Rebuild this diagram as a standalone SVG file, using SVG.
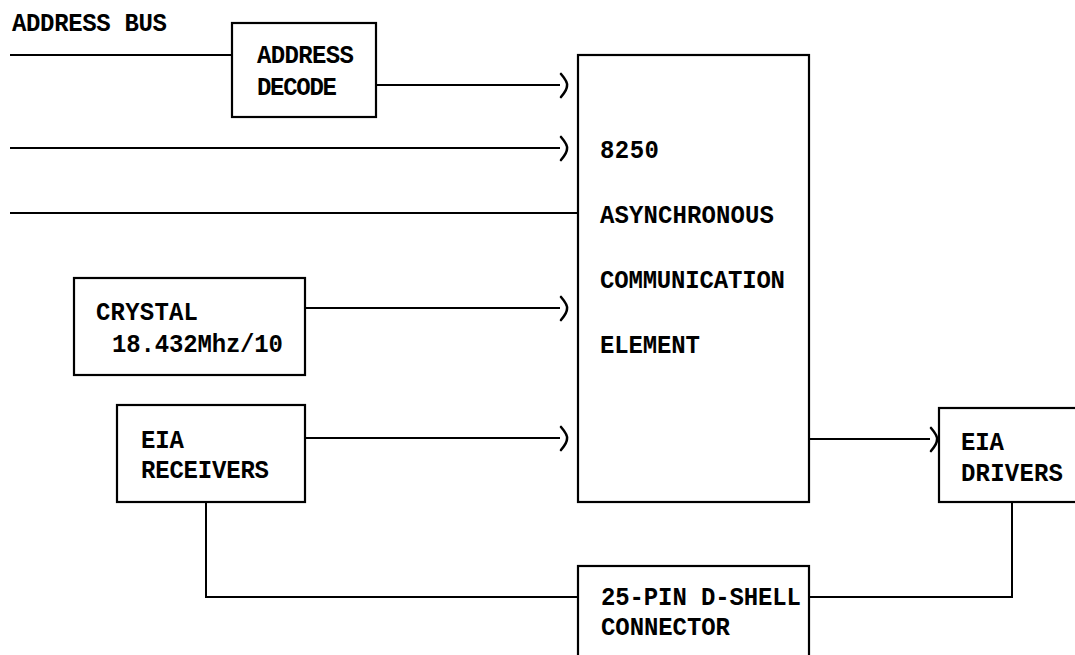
<svg xmlns="http://www.w3.org/2000/svg" width="1075" height="655" viewBox="0 0 1075 655">
<style>
.t{font-family:"Liberation Mono","DejaVu Sans Mono",monospace;font-weight:bold;font-size:24px;fill:#000}
.b{fill:#fff;stroke:#000;stroke-width:2.2}
.w{fill:none;stroke:#000;stroke-width:2}
.c{fill:none;stroke:#000;stroke-width:2.6;stroke-linejoin:round;stroke-linecap:round}
</style>
<rect width="1075" height="655" fill="#fff"/>
<text class="t" transform="scale(1,1.1)" x="12" y="28.18" textLength="155" lengthAdjust="spacing">ADDRESS BUS</text>
<g id="connectors">
<path class="w" d="M10,55 H232"/>
<path class="w" d="M376,85 H560"/>
<path class="c" d="M561,74 Q568,82 567,86 Q567,90 561,97"/>
<path class="w" d="M10,148 H560"/>
<path class="c" d="M561,137 Q568,145 567,149 Q567,153 561,160"/>
<path class="w" d="M10,213 H578"/>
<path class="w" d="M305,308 H560"/>
<path class="c" d="M561,297 Q568,305 567,309 Q567,313 561,320"/>
<path class="w" d="M305,438 H560"/>
<path class="c" d="M561,427 Q568,435 567,439 Q567,443 561,450"/>
<path class="w" d="M809,439 H930"/>
<path class="c" d="M931,428 Q938,436 937,440 Q937,444 931,451"/>
<path class="w" d="M206,502 V597 H578"/>
<path class="w" d="M809,597 H1012 V502"/>
</g>
<g id="address-decode">
<rect class="b" x="232" y="23" width="144" height="94"/>
<text class="t" transform="scale(1,1.1)" x="257" y="57.27" textLength="97" lengthAdjust="spacing">ADDRESS</text>
<text class="t" transform="scale(1,1.1)" x="257" y="86.36" textLength="80" lengthAdjust="spacing">DECODE</text>
</g>
<g id="ace-8250">
<rect class="b" x="578" y="55" width="231" height="447"/>
<text class="t" transform="scale(1,1.1)" x="600" y="143.64" textLength="59" lengthAdjust="spacing">8250</text>
<text class="t" transform="scale(1,1.1)" x="600" y="202.73" textLength="174" lengthAdjust="spacing">ASYNCHRONOUS</text>
<text class="t" transform="scale(1,1.1)" x="600" y="261.82" textLength="185" lengthAdjust="spacing">COMMUNICATION</text>
<text class="t" transform="scale(1,1.1)" x="600" y="320.91" textLength="100" lengthAdjust="spacing">ELEMENT</text>
</g>
<g id="crystal">
<rect class="b" x="74" y="278" width="231" height="97"/>
<text class="t" transform="scale(1,1.1)" x="96" y="290.91" textLength="102" lengthAdjust="spacing">CRYSTAL</text>
<text class="t" transform="scale(1,1.1)" x="112" y="320" textLength="171" lengthAdjust="spacing">18.432Mhz/10</text>
</g>
<g id="eia-receivers">
<rect class="b" x="117" y="405" width="188" height="97"/>
<text class="t" transform="scale(1,1.1)" x="141" y="407.27" textLength="43" lengthAdjust="spacing">EIA</text>
<text class="t" transform="scale(1,1.1)" x="141" y="434.55" textLength="128" lengthAdjust="spacing">RECEIVERS</text>
</g>
<g id="eia-drivers">
<rect class="b" x="939" y="408" width="140" height="94"/>
<text class="t" transform="scale(1,1.1)" x="961" y="409.09" textLength="43" lengthAdjust="spacing">EIA</text>
<text class="t" transform="scale(1,1.1)" x="961" y="437.27" textLength="102" lengthAdjust="spacing">DRIVERS</text>
</g>
<g id="d-shell-connector">
<rect class="b" x="578" y="566" width="231" height="100"/>
<text class="t" transform="scale(1,1.1)" x="601" y="550" textLength="200" lengthAdjust="spacing">25-PIN D-SHELL</text>
<text class="t" transform="scale(1,1.1)" x="601" y="577.27" textLength="129" lengthAdjust="spacing">CONNECTOR</text>
</g>
</svg>
